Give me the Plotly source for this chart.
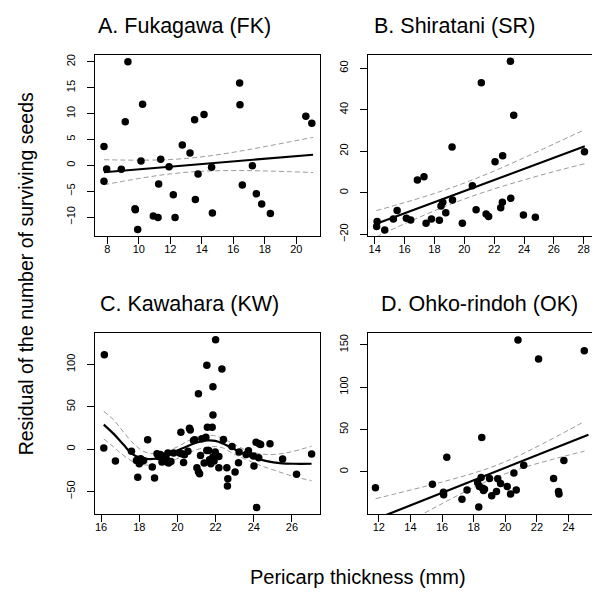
import plotly.graph_objects as go

# ---------------- data ----------------
# Panel A. Fukagawa (FK)
A_x = [7.79, 7.96, 7.79, 8.89, 9.14, 9.31, 9.76, 9.78, 9.93, 10.14, 10.24, 10.92, 11.22, 11.26,
       11.39, 11.92, 12.19, 12.30, 12.76, 13.25, 13.54, 13.59, 13.76, 14.14, 14.62, 14.67, 16.40,
       16.42, 16.57, 17.21, 17.46, 17.80, 18.35, 20.6, 20.98]
A_y = [3.64, -0.70, -3.1, -0.77, 8.4, 20.0, -8.4, -8.6, -12.4, 0.83, 11.8, -9.8, -10.1, -3.6,
       1.15, -0.3, -5.7, -10.1, 3.9, 2.4, 8.8, -6.6, -1.7, 9.8, -0.4, -9.2, 15.9,
       11.7, -3.8, -0.1, -5.5, -7.5, -9.3, 9.5, 8.1]
A_fit_x = [7.79, 21.06]
A_fit_y = [-1.34, 2.04]
A_ci_x = [7.8, 10, 12, 14, 16, 18, 21.06]
A_ci_up = [1.08, 0.99, 1.12, 1.63, 2.52, 3.61, 5.40]
A_ci_lo = [-3.76, -2.55, -1.66, -1.15, -1.02, -1.09, -1.40]

# Panel B. Shiratani (SR)
B_x = [14.16, 14.13, 14.67, 15.25, 15.50, 16.12, 16.41, 16.86, 17.30, 17.44, 17.80, 18.33, 18.44,
       18.56, 18.76, 19.18, 19.21, 19.87, 20.54, 20.79, 21.14, 21.46, 21.63, 22.06, 22.44, 22.55,
       22.57, 23.09, 23.11, 23.31, 23.96, 24.76, 28.05]
B_y = [-13.8, -16.3, -17.9, -12.6, -8.5, -12.3, -13.1, 6.1, 7.7, -14.7, -12.6, -13.3, -6.4,
       -4.6, -9.6, 22.1, -3.5, -14.7, 3.4, -8.2, 53.0, -10.2, -11.4, 14.9, -7.2, -4.6,
       17.8, 63.4, -2.7, 37.3, -10.7, -11.8, 19.8]
B_fit_x = [14.11, 28.07]
B_fit_y = [-14.9, 22.38]
B_ci_x = [14.11, 16, 18, 20, 22, 24, 26, 28.07]
B_ci_up = [-8.6, -4.76, -0.34, 4.69, 10.48, 16.84, 23.5, 30.4]
B_ci_lo = [-21.2, -14.94, -8.68, -3.03, 1.86, 6.18, 10.2, 14.0]

# Panel C. Kawahara (KW)
C_x = [16.17, 16.14, 16.75, 17.59, 17.92, 17.85, 18.0, 18.14, 18.23, 18.07, 18.44, 18.68, 18.80,
       18.93, 19.0, 19.10, 19.19, 19.28, 19.36, 19.45, 19.66, 19.80, 20.18, 20.11, 20.32, 20.37,
       20.55, 20.63, 20.67, 20.84, 21.02, 21.10, 21.16, 21.21, 21.28, 21.40, 21.49, 21.57, 21.64,
       21.68, 21.75, 21.82, 21.86, 21.86, 21.92, 22.17, 22.17, 22.41, 22.59, 22.64, 22.62, 22.86,
       23.02, 23.20, 23.23, 23.60, 23.72, 23.98, 24.01, 24.12, 24.28, 24.26, 24.36, 24.85, 25.51,
       26.24, 27.03, 24.15, 22.0, 21.54, 22.33, 21.1, 21.86, 19.19, 19.41, 19.54, 21.54, 21.98,
       20.23, 20.9, 19.5]
C_y = [111.6, 1.2, -14.1, -2.4, -33.3, -13.3, -17.3, -14.1, -13.3, -11.4, 11.0, -21.2, -34.1,
       -5.5, -8.6, -6.3, -10.2, -14.1, -8.2, -15.3, -14.5, -4.7, 20.0, -4.7, -15.7, -6.7,
       -2.4, 24.7, 22.7, 10.2, -22.0, -26.7, -29.0, -7.5, 12.2, -16.5, 14.1, 25.9, -1.6,
       -12.5, -17.3, 25.9, 40.4, -9.4, -14.1, -22.0, -8.6, 11.4, -22.0, -34.9, -43.5, 3.1,
       -27.1, -16.1, -3.5, -6.3, -2.0, -8.2, -20.0, 8.2, 6.3, -10.2, 5.5, 6.3, -11.8,
       -29.8, -5.9, -69.0, 129.2, 99.2, 94.5, 65.3, 73.8, -15.3, -11.4, -16.5, -1.6, -3.5,
       -5.5, 11.0, -4.5]
C_fit_x = [16.14, 16.66, 17.18, 17.62, 18.06, 18.58, 19.10, 19.80, 20.49, 21.02, 21.54, 21.98,
           22.41, 22.93, 23.46, 23.98, 24.68, 25.37, 26.07, 27.03]
C_fit_y = [29.0, 18.0, 5.1, -5.5, -10.2, -11.8, -10.2, -3.5, 3.1, 7.8, 10.2, 9.8,
           6.3, 0.4, -5.5, -10.2, -14.1, -16.5, -17.3, -17.3]
C_up_x = [16.14, 16.66, 17.18, 17.71, 18.23, 18.75, 19.28, 19.97, 20.67, 21.37, 21.89, 22.41,
          22.93, 23.63, 24.33, 25.02, 25.90, 27.03]
C_up_y = [44.7, 34.5, 20.0, 6.3, -2.7, -5.5, -4.3, 2.4, 11.0, 16.1, 16.1, 12.2,
          6.3, -1.6, -5.5, -6.3, -3.5, 3.5]
C_lo_x = [16.14, 16.66, 17.18, 17.71, 18.23, 18.75, 19.28, 19.97, 20.67, 21.37, 21.89, 22.41,
          22.93, 23.63, 24.33, 25.2, 26.07, 27.03]
C_lo_y = [12.2, 2.4, -7.5, -15.3, -18.4, -19.2, -17.3, -11.4, -3.5, 1.6, 3.1, 1.2,
          -5.5, -12.5, -19.2, -25.9, -32.2, -37.3]

# Panel D. Ohko-rindoh (OK)
D_x = [11.79, 15.39, 16.09, 16.10, 16.30, 17.26, 17.58, 18.32, 18.25, 18.47, 18.51, 18.36, 18.57,
       18.68, 19.0, 19.14, 19.44, 19.52, 19.70, 20.12, 20.33, 20.54, 20.69, 21.16, 23.05, 23.36,
       23.39, 23.70, 20.8, 22.1, 24.99, 18.62]
D_y = [-18.6, -14.7, -24.0, -27.0, 17.4, -32.2, -21.3, -41.5, -12.8, -6.6, 40.7, -17.4, -19.4,
       -20.5, -7.8, -28.3, -23.3, -8.1, -13.6, -17.4, -26.0, -1.2, -21.3, 7.7, -7.8, -23.3,
       -26.0, 13.5, 155.8, 133.3, 143.0, -22.0]
D_fit_x = [11.8, 25.25]
D_fit_y = [-55.84, 43.8]
D_ci_x = [11.8, 13, 14, 15, 16, 17, 18, 19, 20, 21, 22, 23, 24, 25]
D_ci_up = [-31.67, -26.15, -21.50, -16.78, -11.94, -6.88, -1.43, 4.74, 12.03, 20.48, 29.73,
           39.44, 49.38, 59.46]
D_ci_lo = [-80.0, -67.7, -57.6, -47.5, -37.5, -27.7, -18.35, -9.70, -2.17, 4.20, 9.77,
           14.88, 19.76, 24.50]

titles = ["A. Fukagawa (FK)", "B. Shiratani (SR)", "C. Kawahara (KW)", "D. Ohko-rindoh (OK)"]
x_ticks = [[8, 10, 12, 14, 16, 18, 20], [14, 16, 18, 20, 22, 24, 26, 28],
           [16, 18, 20, 22, 24, 26], [12, 14, 16, 18, 20, 22, 24]]
y_ticks = [[-10, -5, 0, 5, 10, 15, 20], [-20, 0, 20, 40, 60], [-50, 0, 50, 100], [0, 50, 100, 150]]
x_title = "Pericarp thickness (mm)"
y_title = "Residual of the number of surviving seeds"

# ---------------- layout ----------------
W = H = 600
boxes = [(87, 312, 47, 230), (360, 585, 47, 230), (87, 312, 328, 511), (360, 585, 328, 511)]
x_ranges = [[7.22, 21.5], [13.55, 28.62], [15.68, 27.47], [11.32, 25.54]]
y_ranges = [[-13.6, 21.4], [-20.7, 66.6], [-76.5, 137.5], [-49.6, 164.3]]
title_pos = [(176, 18), (446, 18), (181, 299), (471, 299)]

panels = [
    (A_x, A_y, [(A_fit_x, A_fit_y)], [(A_ci_x, A_ci_up), (A_ci_x, A_ci_lo)]),
    (B_x, B_y, [(B_fit_x, B_fit_y)], [(B_ci_x, B_ci_up), (B_ci_x, B_ci_lo)]),
    (C_x, C_y, [(C_fit_x, C_fit_y)], [(C_up_x, C_up_y), (C_lo_x, C_lo_y)]),
    (D_x, D_y, [(D_fit_x, D_fit_y)], [(D_ci_x, D_ci_up), (D_ci_x, D_ci_lo)]),
]

fig = go.Figure()
tick_font = dict(family="Liberation Sans, Arial, sans-serif", size=11, color="black")
title_font = "Liberation Sans, Arial, sans-serif"

for i, (px, py, fits, cis) in enumerate(panels):
    sfx = "" if i == 0 else str(i + 1)
    xa, ya = "x" + sfx, "y" + sfx
    for cx, cy in cis:
        fig.add_trace(go.Scatter(x=cx, y=cy, mode="lines", xaxis=xa, yaxis=ya,
                                 line=dict(color="#808080", width=0.8, dash="5px,3px"),
                                 line_shape="spline", hoverinfo="skip", showlegend=False))
    for fx, fy in fits:
        fig.add_trace(go.Scatter(x=fx, y=fy, mode="lines", xaxis=xa, yaxis=ya,
                                 line=dict(color="black", width=2.2),
                                 line_shape="spline", hoverinfo="skip", showlegend=False))
    fig.add_trace(go.Scatter(x=px, y=py, mode="markers", xaxis=xa, yaxis=ya,
                             marker=dict(color="black", size=7.5), showlegend=False))

    l, r, t, b = boxes[i]
    common = dict(showline=True, mirror=True, linecolor="black", linewidth=1.2,
                  ticks="outside", ticklen=7, tickwidth=1, tickcolor="black",
                  showgrid=False, zeroline=False, tickfont=tick_font)
    fig.layout["xaxis" + sfx] = dict(domain=[l / W, r / W], range=x_ranges[i], anchor=ya,
                                     tickvals=x_ticks[i], ticklabelstandoff=-4, **common)
    fig.layout["yaxis" + sfx] = dict(domain=[1 - b / H, 1 - t / H], range=y_ranges[i], anchor=xa,
                                     tickvals=y_ticks[i], tickangle=-90, ticklabelstandoff=8,
                                     **common)
    tx, ty = title_pos[i]
    fig.add_annotation(text=titles[i], x=tx / W, y=1 - ty / H, xref="paper", yref="paper",
                       xanchor="center", yanchor="middle", showarrow=False,
                       font=dict(family=title_font, size=21.5, color="black"))

fig.add_annotation(text=x_title, x=350 / W, y=1 - 575 / H, xref="paper", yref="paper",
                   xanchor="center", yanchor="middle", showarrow=False,
                   font=dict(family=title_font, size=20, color="black"))
fig.add_annotation(text=y_title, x=18 / W, y=1 - 269 / H, xref="paper", yref="paper",
                   xanchor="center", yanchor="middle", showarrow=False, textangle=-90,
                   font=dict(family=title_font, size=19.5, color="black"))

fig.update_layout(width=W, height=H, margin=dict(l=0, r=0, t=0, b=0),
                  plot_bgcolor="white", paper_bgcolor="white")
fig.write_html("out.html")
